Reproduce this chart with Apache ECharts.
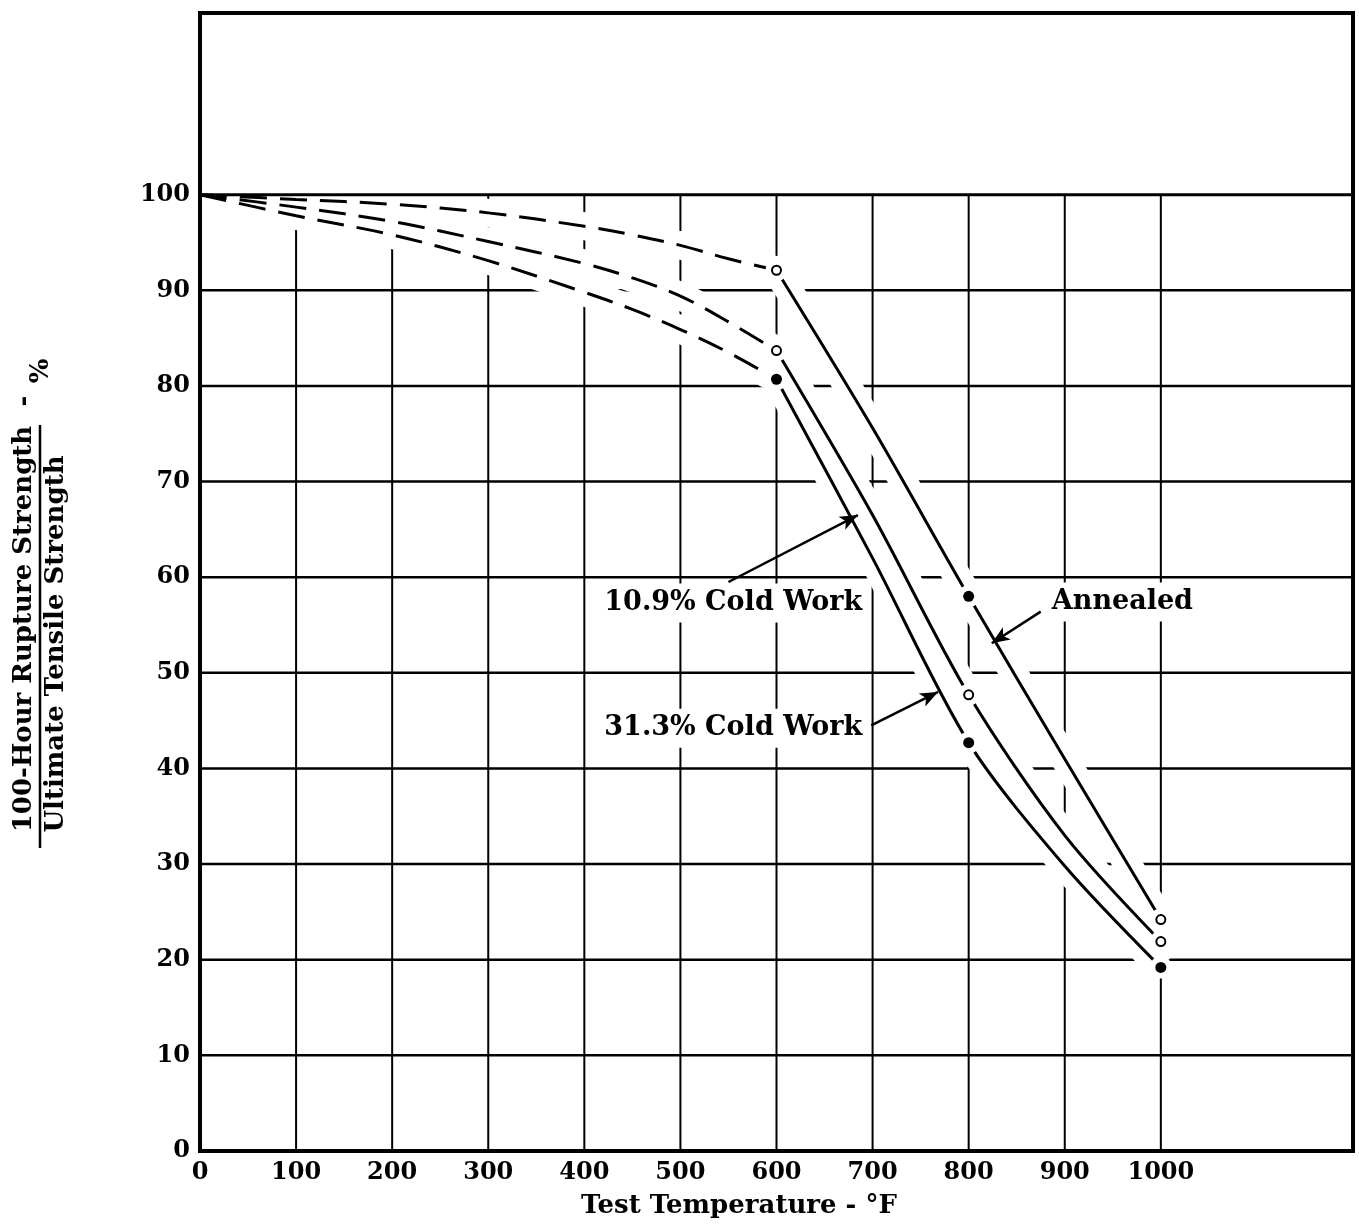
<!DOCTYPE html>
<html><head><meta charset="utf-8">
<script src="https://cdn.jsdelivr.net/npm/echarts@6/dist/echarts.min.js"></script>
<style>html,body{margin:0;padding:0;background:#fff}#c{width:1359px;height:1224px}</style>
</head><body><div id="c"></div>
<script>
// ---- data ----
const dashedTemps = [0, 100, 200, 300, 400, 450, 500, 550, 600];
const annealedDashed = [100, 99.5, 99.0, 98.1, 96.7, 95.8, 94.7, 93.3, 92.1];
const cw109Dashed   = [100, 98.7, 97.2, 95.1, 92.8, 91.3, 89.4, 86.7, 83.7];
const cw313Dashed   = [100, 97.8, 95.8, 93.1, 89.8, 88.0, 85.9, 83.5, 80.7];

const solidTemps = [600, 700, 800, 900, 1000];
const annealedSolid = [92.1, 75.6, 58.0, 41.0, 24.2];
const cw109Solid    = [83.7, 66.5, 47.7, 33.0, 21.9];
const cw313Solid    = [80.7, 62.0, 42.7, 29.8, 19.2];

const markerTemps = [600, 800, 1000];
const annealedMarkers = [92.1, 58.0, 24.2];
const annealedFilled  = [false, true, false];
const cw109Markers = [83.7, 47.7, 21.9];
const cw109Filled  = [false, false, false];
const cw313Markers = [80.7, 42.7, 19.2];
const cw313Filled  = [true, true, true];

const gridTemps = [100, 200, 300, 400, 500, 600, 700, 800, 900, 1000];
const gridPercents = [10, 20, 30, 40, 50, 60, 70, 80, 90];
const topPercent = 100;

const labelTexts = ['10.9% Cold Work', '31.3% Cold Work', 'Annealed'];
const labelTemps = [555, 555, 960];
const labelPercents = [57.3, 44.2, 57.4];
const arrowFrom = [[550, 59.5], [698.6, 44.5], [875, 56.4]];
const arrowTo   = [[684.7, 66.5], [768.2, 48.0], [824, 53.1]];

const xTitle = 'Test Temperature - °F';
const yNumerator = '100-Hour Rupture Strength';
const yDenominator = 'Ultimate Tensile Strength';

// ---- chart ----
const FONT = '"DejaVu Serif", "Liberation Serif", serif';
const pairs = (xs, ys) => xs.map((x, i) => [x, ys[i]]);

const curves = [
  {d: annealedDashed, s: annealedSolid, m: annealedMarkers, f: annealedFilled},
  {d: cw109Dashed, s: cw109Solid, m: cw109Markers, f: cw109Filled},
  {d: cw313Dashed, s: cw313Solid, m: cw313Markers, f: cw313Filled}
];

const vGrid = [];
gridTemps.forEach(t => { vGrid.push([t, 0], [t, topPercent], [t, '-']); });
const hGrid = [];
gridPercents.forEach(p => { hGrid.push([0, p], [1200, p], [1200, '-']); });

const series = [];
// layer 0: grid
series.push({
  type: 'line', zlevel: 0, z: 1, silent: true, symbol: 'none',
  lineStyle: {color: '#000', width: 2}, data: vGrid
});
series.push({
  type: 'line', zlevel: 0, z: 1, silent: true, symbol: 'none',
  lineStyle: {color: '#000', width: 2.5}, data: hGrid
});
// layer 1: white halos (gaps in the grid)
curves.forEach(c => {
  series.push({
    type: 'line', zlevel: 1, silent: true, symbol: 'none', smooth: 0.35,
    lineStyle: {color: '#fff', width: 28}, data: pairs(dashedTemps, c.d)
  });
  series.push({
    type: 'line', zlevel: 1, silent: true, symbol: 'none', smooth: 0.3,
    lineStyle: {color: '#fff', width: 28}, data: pairs(solidTemps, c.s)
  });
});
// layer 2: 100% line, curves
series.push({
  type: 'line', zlevel: 2, z: 1, silent: true, symbol: 'none',
  lineStyle: {color: '#000', width: 3}, data: [[0, topPercent], [1200, topPercent]]
});
curves.forEach(c => {
  series.push({
    type: 'line', zlevel: 2, z: 2, silent: true, symbol: 'none', smooth: 0.35,
    lineStyle: {color: '#000', width: 3, type: [27, 13]},
    data: pairs(dashedTemps, c.d)
  });
  series.push({
    type: 'line', zlevel: 2, z: 2, silent: true, symbol: 'none', smooth: 0.3,
    lineStyle: {color: '#000', width: 3},
    data: pairs(solidTemps, c.s)
  });
});
// layer 3: marker halos
curves.forEach(c => series.push({
  type: 'scatter', zlevel: 3, silent: true, symbol: 'circle', symbolSize: 22,
  itemStyle: {color: '#fff', opacity: 1},
  data: pairs(markerTemps, c.m)
}));
// layer 4: markers, labels, arrows
curves.forEach(c => series.push({
  type: 'scatter', zlevel: 4, silent: true,
  data: markerTemps.map((t, i) => ({
    value: [t, c.m[i]],
    symbol: c.f[i] ? 'circle' : 'emptyCircle',
    symbolSize: c.f[i] ? 11 : 9,
    itemStyle: c.f[i] ? {color: '#000', borderWidth: 0, opacity: 1}
                      : {color: '#000', borderColor: '#000', borderWidth: 3, opacity: 1}
  }))
}));
series.push({
  type: 'scatter', zlevel: 4, silent: true, symbolSize: 1,
  itemStyle: {color: 'rgba(0,0,0,0)', opacity: 1},
  data: labelTexts.map((t, i) => ({
    value: [labelTemps[i], labelPercents[i]],
    label: {
      show: true, position: 'inside', formatter: t,
      fontFamily: FONT, fontWeight: 'bold', fontSize: 27, color: '#000',
      backgroundColor: '#fff', padding: [6, 8]
    }
  })),
  markLine: {
    zlevel: 4, z: 10,
    silent: true, symbol: ['none', 'arrow'], symbolSize: [11, 18],
    label: {show: false},
    lineStyle: {color: '#000', width: 2.5, type: 'solid', opacity: 1},
    emphasis: {disabled: true},
    data: arrowFrom.map((a, i) => [{coord: a}, {coord: arrowTo[i]}])
  }
});

const chart = echarts.init(document.getElementById('c'), null, {renderer: 'canvas'});
chart.setOption({
  animation: false,
  backgroundColor: '#fff',
  grid: {left: 200, right: 6, top: 13, bottom: 73, show: true, zlevel: 5,
         borderColor: '#000', borderWidth: 4, backgroundColor: 'transparent'},
  xAxis: {
    type: 'value', min: 0, max: 1200, interval: 100, zlevel: 5,
    axisLine: {show: true, lineStyle: {color: '#000', width: 4}},
    axisTick: {show: false}, splitLine: {show: false},
    axisLabel: {margin: 10, color: '#000', fontFamily: FONT, fontWeight: 'bold', fontSize: 24,
      formatter: v => v <= 1000 ? String(v) : ''}
  },
  yAxis: {
    type: 'value', min: 0, max: 119, interval: 10, zlevel: 5,
    axisLine: {show: true, lineStyle: {color: '#000', width: 4}},
    axisTick: {show: false}, splitLine: {show: false},
    axisLabel: {margin: 10, color: '#000', fontFamily: FONT, fontWeight: 'bold', fontSize: 24,
      formatter: v => (v <= 100 && v % 10 === 0) ? String(v) : ''}
  },
  series: series,
  graphic: [
    {type: 'text', x: 739, y: 1206, zlevel: 5,
     style: {text: xTitle, font: 'bold 26px ' + FONT, fill: '#000', align: 'center', verticalAlign: 'middle'}},
    {type: 'text', x: 24, y: 629, rotation: Math.PI / 2, zlevel: 5,
     style: {text: yNumerator, font: 'bold 26px ' + FONT, fill: '#000', align: 'center', verticalAlign: 'middle'}},
    {type: 'line', zlevel: 5, shape: {x1: 40, y1: 425, x2: 40, y2: 848}, style: {stroke: '#000', lineWidth: 2.5}},
    {type: 'text', x: 56, y: 644, rotation: Math.PI / 2, zlevel: 5,
     style: {text: yDenominator, font: 'bold 26px ' + FONT, fill: '#000', align: 'center', verticalAlign: 'middle'}},
    {type: 'text', x: 24, y: 401, rotation: Math.PI / 2, zlevel: 5,
     style: {text: '-', font: 'bold 26px ' + FONT, fill: '#000', align: 'center', verticalAlign: 'middle'}},
    {type: 'text', x: 41, y: 371, rotation: Math.PI / 2, zlevel: 5,
     style: {text: '%', font: 'bold 26px ' + FONT, fill: '#000', align: 'center', verticalAlign: 'middle'}}
  ]
});
</script></body></html>
